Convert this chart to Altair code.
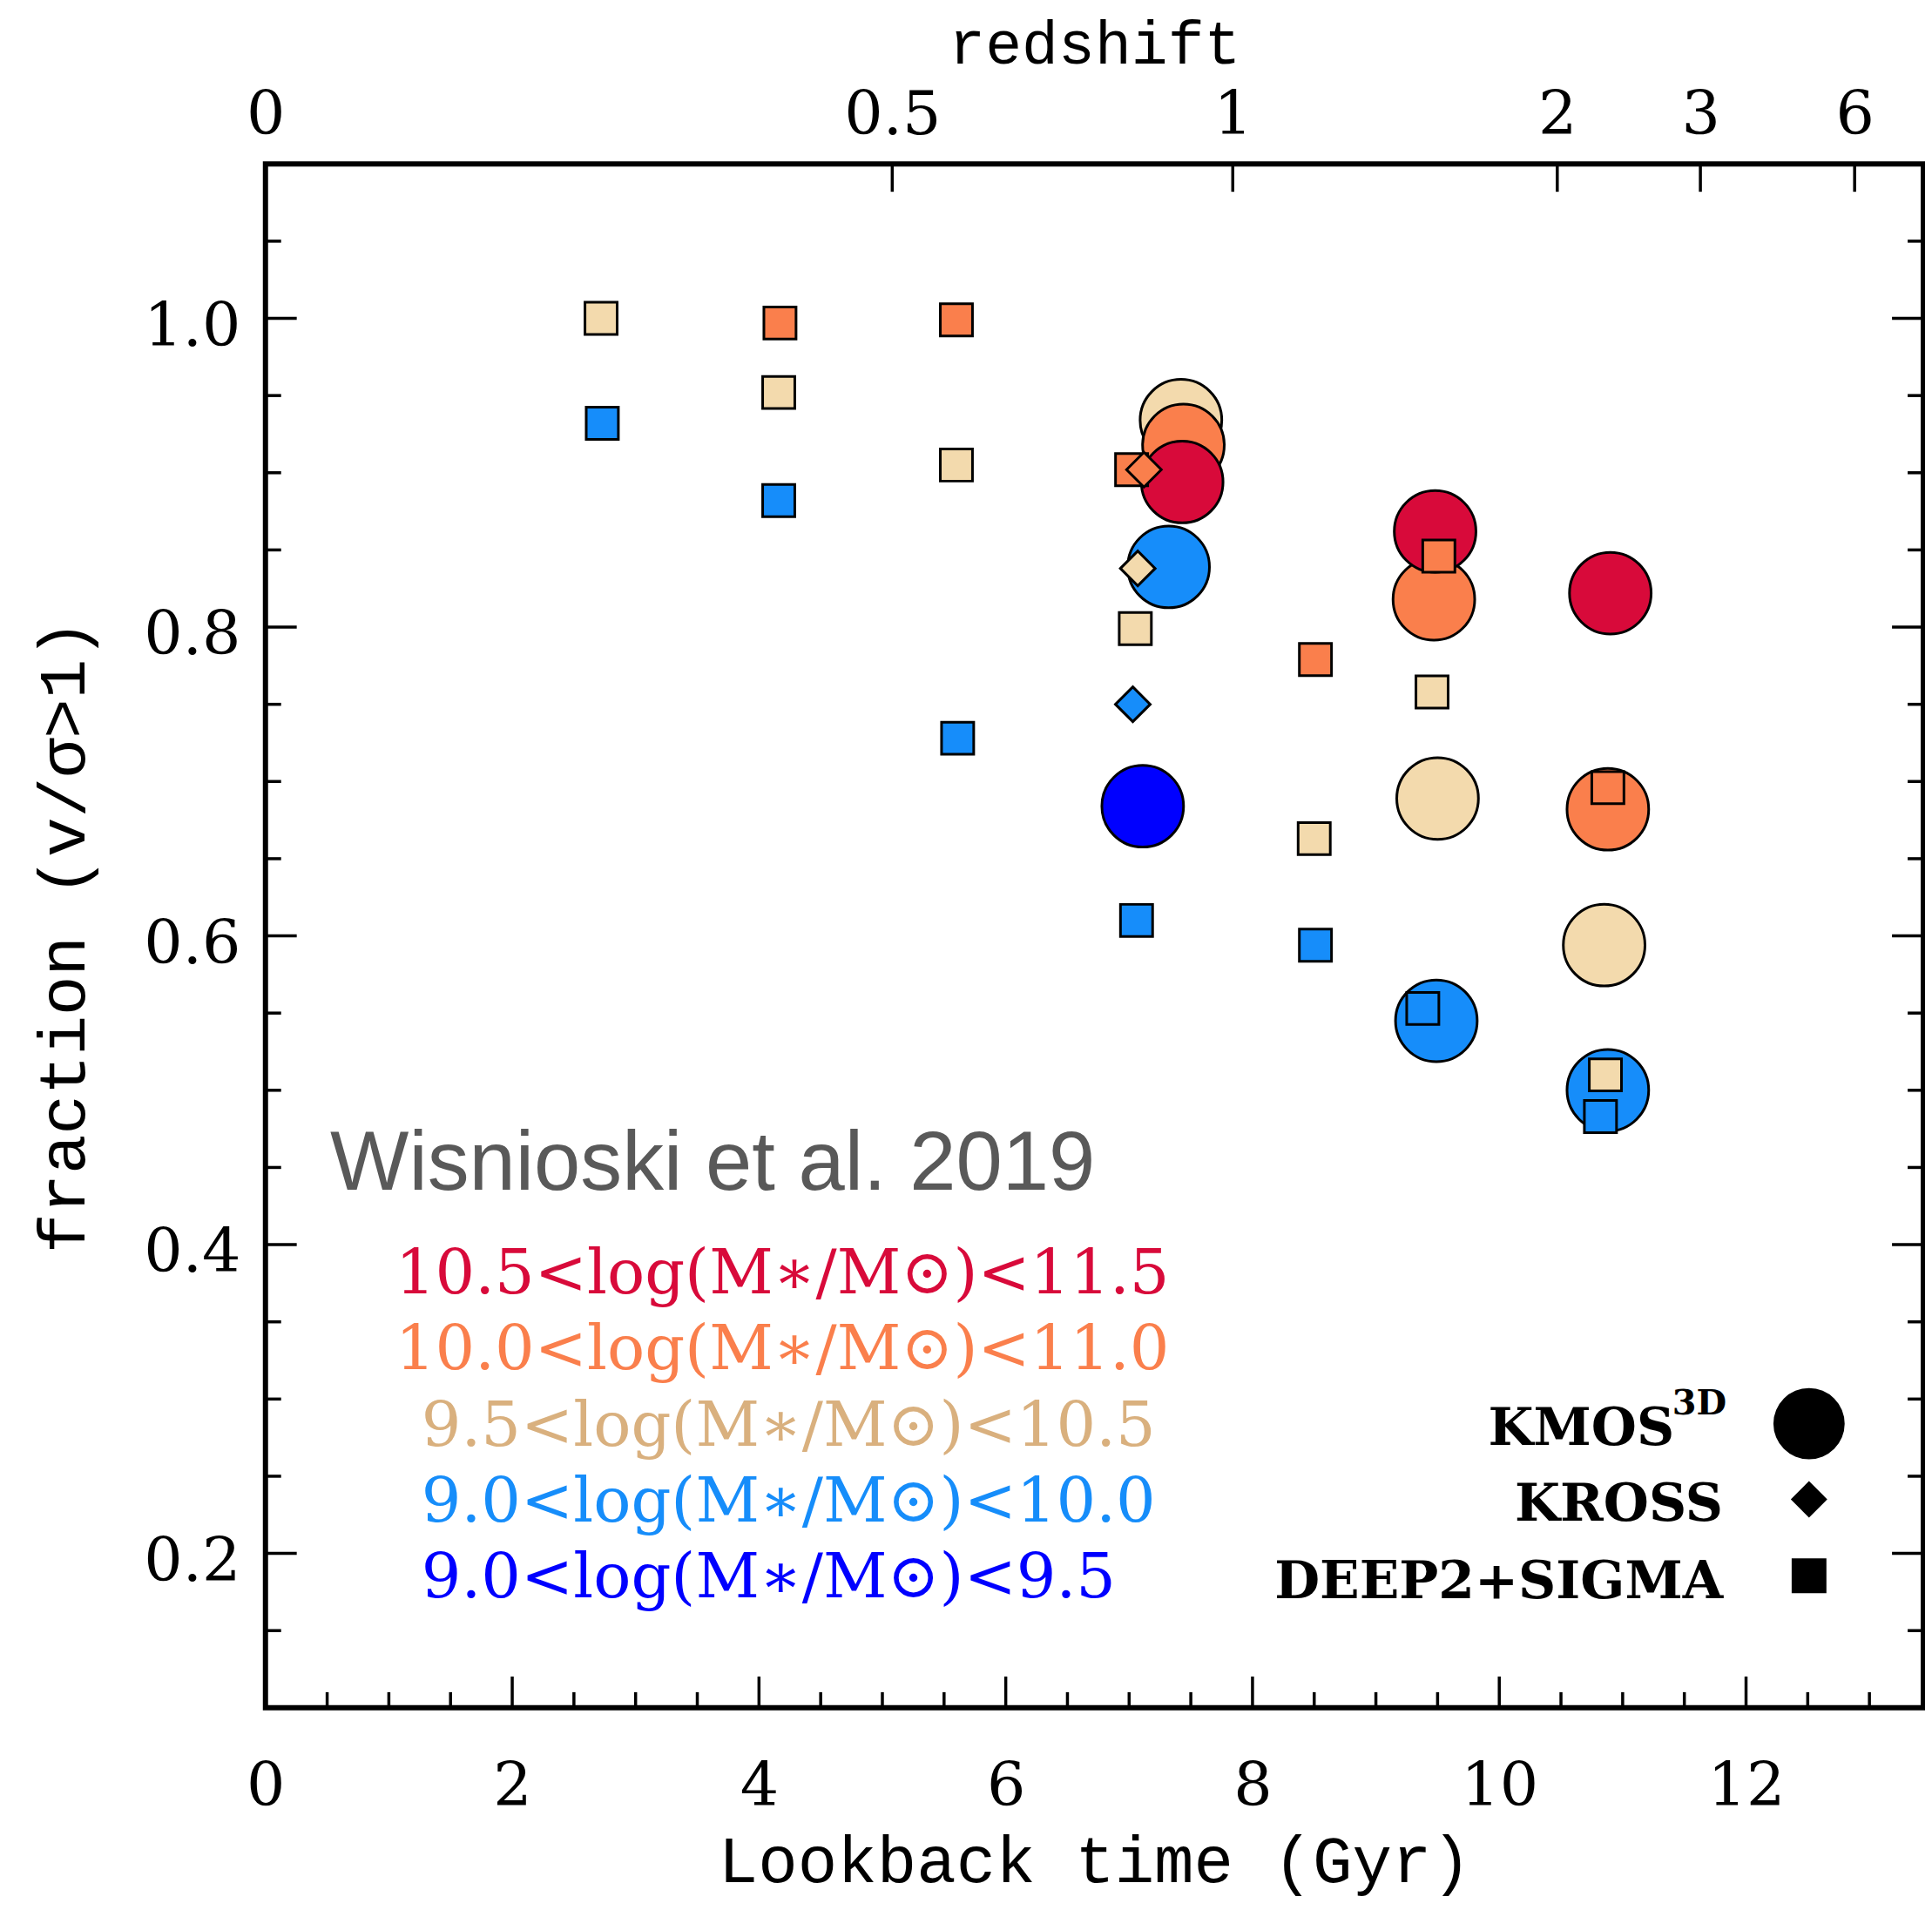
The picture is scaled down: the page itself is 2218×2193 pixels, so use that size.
import altair as alt
import pandas as pd
import numpy as np

# ---------------- data ----------------
bins = ["10.5<log(M∗/M⊙)<11.5", "10.0<log(M∗/M⊙)<11.0", "9.5<log(M∗/M⊙)<10.5",
        "9.0<log(M∗/M⊙)<10.0", "9.0<log(M∗/M⊙)<9.5"]
surveys = ["KMOS3D", "KROSS", "DEEP2+SIGMA"]

# KMOS3D (circles)
kmos_time = [7.42, 7.44, 7.43, 7.32, 7.11, 9.48, 9.47, 9.50, 9.49, 10.90, 10.88, 10.85, 10.88]
kmos_frac = [0.934, 0.918, 0.894, 0.839, 0.684, 0.862, 0.818, 0.689, 0.545, 0.822, 0.682, 0.594, 0.500]
kmos_bin = [2, 1, 0, 3, 4, 0, 1, 2, 3, 0, 1, 2, 3]

# KROSS (diamonds)
kross_time = [7.12, 7.07, 7.03]
kross_frac = [0.902, 0.838, 0.750]
kross_bin = [1, 2, 3]

# DEEP2+SIGMA (squares)
deep_time = [2.72, 2.73, 4.17, 4.16, 4.16, 5.60, 5.60, 5.61, 7.02, 7.05, 7.06,
             8.51, 8.50, 8.51, 9.51, 9.455, 9.38, 10.88, 10.86, 10.82]
deep_frac = [1.000, 0.932, 0.997, 0.952, 0.882, 0.999, 0.905, 0.728, 0.902, 0.799, 0.610,
             0.779, 0.663, 0.594, 0.846, 0.758, 0.553, 0.696, 0.510, 0.483]
deep_bin = [2, 3, 1, 2, 3, 1, 2, 3, 1, 2, 3, 1, 2, 3, 1, 2, 3, 1, 2, 3]

# axis ticks
x_major = [0, 2, 4, 6, 8, 10, 12]
x_minor = [v for v in np.arange(0.5, 13.01, 0.5).round(2).tolist() if v % 2 != 0]
y_major = [0.2, 0.4, 0.6, 0.8, 1.0]
y_minor = [round(v, 2) for v in np.arange(0.15, 1.051, 0.05).tolist()
           if min(abs(v - m) for m in y_major) > 1e-6]
z_labels = ["0", "0.5", "1", "2", "3", "6"]
z_lookback = [0.0, 5.08, 7.84, 10.47, 11.63, 12.88]

# ---------------- styles / layout ----------------
fill_colors = ["#D80A3A", "#FA7F4C", "#F3DAAD", "#168DFA", "#0000FF"]
text_colors = ["#D80A3A", "#FA7F4C", "#D9B07E", "#168DFA", "#0000FF"]
W, H = 1908, 1777
XMAX = W / 142.0
SERIF = "DejaVu Serif"
MONO = "Liberation Mono"

df_k = pd.DataFrame({"time": kmos_time, "frac": kmos_frac,
                     "bin": [bins[i] for i in kmos_bin], "z": [4 - i for i in kmos_bin]})
df_r = pd.DataFrame({"time": kross_time, "frac": kross_frac, "bin": [bins[i] for i in kross_bin]})
df_d = pd.DataFrame({"time": deep_time, "frac": deep_frac, "bin": [bins[i] for i in deep_bin]})

xs = alt.Scale(domain=[0, XMAX], nice=False, zero=False)
ys = alt.Scale(domain=[0.1, 1.1], nice=False, zero=False)
cs = alt.Scale(domain=bins, range=fill_colors)

bottom_axis = alt.Axis(orient="bottom", values=x_major, format="d", ticks=False, domain=False, grid=False,
                       labelFont=SERIF, labelFontSize=70, labelPadding=57, labelColor="black",
                       labelFlush=False, labelOverlap=False,
                       title="Lookback time (Gyr)", titleFont=MONO, titleFontSize=76,
                       titleFontWeight="normal", titleColor="black", titleX=W / 2, titleY=200,
                       titleBaseline="alphabetic", titleAlign="center")
left_axis = alt.Axis(orient="left", values=y_major, format=".1f", ticks=False, domain=False, grid=False,
                     labelFont=SERIF, labelFontSize=70, labelPadding=29, labelColor="black",
                     labelFlush=False, labelOverlap=False, labelOffset=10,
                     title="fraction (v/σ>1)", titleFont=MONO, titleFontSize=76,
                     titleFontWeight="normal", titleColor="black", titleX=-209, titleY=H / 2,
                     titleAngle=270, titleBaseline="alphabetic", titleAlign="center")

z_expr = " : ".join(f"abs(datum.value - {p}) < 0.01 ? '{l}'" for p, l in zip(z_lookback, z_labels)) + " : ''"
top_axis = alt.Axis(orient="top", values=z_lookback, labelExpr=z_expr, ticks=False, domain=False,
                    grid=False, labelFont=SERIF, labelFontSize=70, labelPadding=20, labelColor="black",
                    labelFlush=False, labelOverlap=False,
                    title="redshift", titleFont=MONO, titleFontSize=70,
                    titleFontWeight="normal", titleColor="black", titleX=W / 2, titleY=-116,
                    titleBaseline="alphabetic", titleAlign="center")

circles = alt.Chart(df_k).mark_point(filled=True, opacity=1, shape="circle", size=8836,
                                     stroke="black", strokeWidth=3).encode(
    x=alt.X("time:Q", scale=xs, axis=bottom_axis),
    y=alt.Y("frac:Q", scale=ys, axis=left_axis),
    color=alt.Color("bin:N", scale=cs, legend=None),
    order=alt.Order("z:Q"),
)
squares = alt.Chart(df_d).mark_point(filled=True, opacity=1, shape="square", size=1369,
                                     stroke="black", strokeWidth=3).encode(
    x=alt.X("time:Q", scale=xs, axis=None),
    y=alt.Y("frac:Q", scale=ys, axis=None),
    color=alt.Color("bin:N", scale=cs, legend=None),
)
diamonds = alt.Chart(df_r).mark_point(filled=True, opacity=1, shape="diamond", size=1600,
                                      stroke="black", strokeWidth=3).encode(
    x=alt.X("time:Q", scale=xs, axis=None),
    y=alt.Y("frac:Q", scale=ys, axis=None),
    color=alt.Color("bin:N", scale=cs, legend=None),
)

# ---- inward ticks ----
TW = 3.5
def xticks(vals, length, top=False, axis=None):
    d = pd.DataFrame({"v": vals})
    if top:
        enc = dict(y=alt.value(0), y2=alt.value(length))
    else:
        enc = dict(y=alt.value(H), y2=alt.value(H - length))
    return alt.Chart(d).mark_rule(color="black", strokeWidth=TW).encode(
        x=alt.X("v:Q", scale=xs, axis=axis), **enc)

def yticks(vals, length, right=False):
    d = pd.DataFrame({"v": vals})
    if right:
        enc = dict(x=alt.value(W), x2=alt.value(W - length))
    else:
        enc = dict(x=alt.value(0), x2=alt.value(length))
    return alt.Chart(d).mark_rule(color="black", strokeWidth=TW).encode(
        y=alt.Y("v:Q", scale=ys, axis=None), **enc)

tick_layers = [
    xticks(x_major, 36), xticks(x_minor, 18),
    xticks(z_lookback, 32, top=True, axis=top_axis),
    yticks(y_major, 36), yticks(y_minor, 18),
    yticks(y_major, 36, right=True), yticks(y_minor, 18, right=True),
]

# ---- annotations ----
df_bins = pd.DataFrame({"bin": bins})
mass_x = [149.5, 149.5, 179.5, 179.5, 179.5]
mass_y0, mass_dy = 1300, 87.5
mass_layers = []
for i, b in enumerate(bins):
    mass_layers.append(
        alt.Chart(df_bins).transform_filter(alt.datum.bin == b).mark_text(
            align="left", baseline="alphabetic", font=SERIF, fontSize=72, color=text_colors[i]
        ).encode(x=alt.value(mass_x[i]), y=alt.value(mass_y0 + i * mass_dy), text="bin:N")
    )

df_title = pd.DataFrame({"t": ["Wisnioski et al. 2019"]})
ref_text = alt.Chart(df_title).mark_text(align="left", baseline="alphabetic", font="Liberation Sans",
                                         fontSize=96, color="#595959").encode(
    x=alt.value(74.5), y=alt.value(1181), text="t:N")

df_sv = pd.DataFrame({"survey": surveys})
leg_shapes = ["circle", "diamond", "square"]
leg_sizes = [6724, 1764, 1600]
leg_text_x = [1621.5, 1677.5, 1677.5]
leg_base_y = [1474, 1562, 1651]
leg_sym_x = 1776.5
leg_sym_y = [1450, 1537, 1625]
leg_layers = []
for i, s in enumerate(surveys):
    base = alt.Chart(df_sv).transform_filter(alt.datum.survey == s)
    leg_layers.append(base.mark_point(filled=True, opacity=1, shape=leg_shapes[i], size=leg_sizes[i],
                                      color="black").encode(x=alt.value(leg_sym_x), y=alt.value(leg_sym_y[i])))
    leg_layers.append(base.transform_calculate(lab="replace(datum.survey, '3D', '')").mark_text(
        align="right", baseline="alphabetic", font=SERIF, fontSize=60, fontWeight="bold", color="black"
    ).encode(x=alt.value(leg_text_x[i]), y=alt.value(leg_base_y[i]), text="lab:N"))
sup = alt.Chart(df_sv).transform_filter(alt.datum.survey == "KMOS3D").transform_calculate(
    sup="'3D'").mark_text(align="right", baseline="alphabetic", font=SERIF, fontSize=40,
                          fontWeight="bold", color="black").encode(
    x=alt.value(1681.5), y=alt.value(1439), text="sup:N")

chart = alt.layer(
    circles, *tick_layers, squares, diamonds, ref_text, *mass_layers, *leg_layers, sup
).resolve_axis(x="independent", y="independent").properties(
    width=W, height=H,
    autosize=alt.AutoSizeParams(type="none"),
    padding={"left": 297.5, "top": 178, "right": 2, "bottom": 222},
    background="white",
).configure_view(stroke="black", strokeWidth=6)

chart.save("out.html", embed_options={"renderer": "svg", "actions": False})
